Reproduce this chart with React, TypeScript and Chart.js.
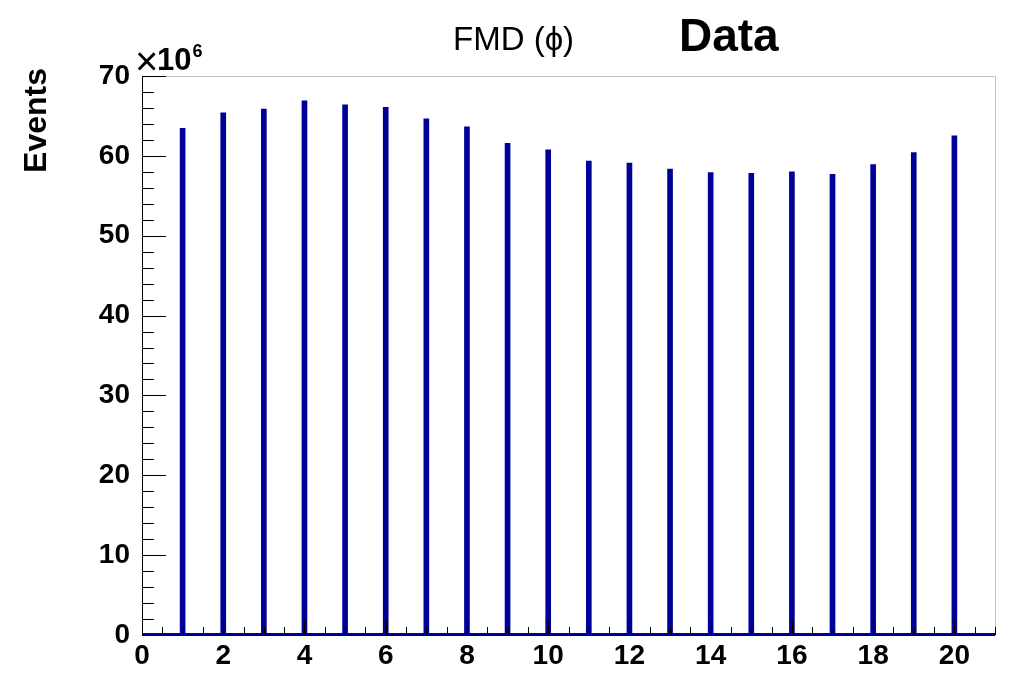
import React, { useEffect, useRef } from "react";
import { Chart, registerables } from "chart.js";

Chart.register(...registerables);

// ---- data (values in units of 10^6 events) ----
const binCenters = [1, 2, 3, 4, 5, 6, 7, 8, 9, 10, 11, 12, 13, 14, 15, 16, 17, 18, 19, 20];
const eventsMillions = [
  63.45, 65.4, 65.87, 66.9, 66.4, 66.08, 64.65, 63.65, 61.57, 60.77,
  59.35, 59.1, 58.35, 57.9, 57.8, 58.0, 57.7, 58.9, 60.4, 62.5,
];
const xRange = [0, 21];
const yRange = [0, 70];
const xMajorStep = 2;
const xMinorStep = 0.5;
const yMajorStep = 10;
const yMinorStep = 2;
const titleText = "FMD (\u03D5)";
const dataLabel = "Data";
const yAxisTitle = "Events";

const FONT = '"Liberation Sans", Arial, Helvetica, sans-serif';
const BLUE = "#000099";

const rootAxesPlugin = {
  id: "rootAxes",
  afterDraw(chart: any) {
    const { ctx, chartArea } = chart;
    const xs = chart.scales.x;
    const ys = chart.scales.y;
    const { left, right, top, bottom } = chartArea;
    ctx.save();
    // frame (top/right light grey)
    ctx.strokeStyle = "#c0c0c0";
    ctx.lineWidth = 1;
    ctx.beginPath();
    ctx.moveTo(left, top + 0.5);
    ctx.lineTo(right + 0.5, top + 0.5);
    ctx.lineTo(right + 0.5, bottom);
    ctx.stroke();
    // axes lines
    ctx.strokeStyle = "#000";
    ctx.beginPath();
    ctx.moveTo(left + 0.5, top);
    ctx.lineTo(left + 0.5, bottom + 0.5);
    ctx.lineTo(right, bottom + 0.5);
    ctx.stroke();
    // y ticks (pointing inwards)
    ctx.beginPath();
    for (let v = yRange[0]; v <= yRange[1] + 1e-9; v += yMinorStep) {
      const py = Math.round(ys.getPixelForValue(v)) + 0.5;
      const isMajor = Math.abs(v / yMajorStep - Math.round(v / yMajorStep)) < 1e-6;
      const len = isMajor ? 24 : 12;
      ctx.moveTo(left, py);
      ctx.lineTo(left + len, py);
    }
    // x ticks
    for (let v = xRange[0]; v <= xRange[1] + 1e-9; v += xMinorStep) {
      const px = Math.round(xs.getPixelForValue(v)) + 0.5;
      const isMajor = Math.abs(v / xMajorStep - Math.round(v / xMajorStep)) < 1e-6;
      const len = isMajor ? 16 : 8;
      ctx.moveTo(px, bottom);
      ctx.lineTo(px, bottom - len);
    }
    ctx.stroke();

    // exponent label x10^6
    ctx.fillStyle = "#000";
    ctx.textBaseline = "alphabetic";
    ctx.textAlign = "left";
    ctx.font = `40px ${FONT}`;
    ctx.fillText("\u00D7", 135, 75);
    ctx.font = `bold 31px ${FONT}`;
    ctx.fillText("10", 157, 70);
    const w10 = ctx.measureText("10").width;
    ctx.font = `bold 18px ${FONT}`;
    ctx.fillText("6", 157 + w10 + 1, 57);

    // titles
    ctx.font = `33px ${FONT}`;
    ctx.fillText(titleText, 453, 50);
    ctx.font = `bold 46px ${FONT}`;
    ctx.fillText(dataLabel, 679, 51);

    // y axis title
    ctx.save();
    ctx.translate(46, 68);
    ctx.rotate(-Math.PI / 2);
    ctx.textAlign = "right";
    ctx.font = `bold 32px ${FONT}`;
    ctx.fillText(yAxisTitle, 0, 0);
    ctx.restore();

    ctx.restore();
  },
};

export default function App() {
  const canvasRef = useRef<HTMLCanvasElement | null>(null);

  useEffect(() => {
    const canvas = canvasRef.current;
    if (!canvas) return;
    const chart = new Chart(canvas, {
      type: "bar",
      data: {
        datasets: [
          {
            type: "bar",
            label: dataLabel,
            data: binCenters.map((x, i) => ({ x, y: eventsMillions[i] })),
            backgroundColor: BLUE,
            borderWidth: 0,
            barThickness: 5,
            order: 2,
          } as any,
          {
            type: "line",
            label: "baseline",
            data: [
              { x: xRange[0], y: 0 },
              { x: xRange[1], y: 0 },
            ],
            borderColor: BLUE,
            borderWidth: 4,
            pointRadius: 0,
            order: 1,
          } as any,
        ],
      },
      options: {
        responsive: false,
        animation: false,
        events: [],
        layout: { padding: { top: 76, right: 22, left: 0, bottom: 0 } },
        plugins: {
          legend: { display: false },
          tooltip: { enabled: false },
          title: { display: false },
        },
        scales: {
          x: {
            type: "linear",
            min: xRange[0],
            max: xRange[1],
            offset: false,
            grid: { display: false, drawTicks: false },
            border: { display: false },
            ticks: {
              stepSize: xMajorStep,
              color: "#000",
              font: { family: FONT, size: 28, weight: "bold" },
              padding: 4,
              maxRotation: 0,
              autoSkip: false,
              includeBounds: false,
            },
            afterFit(scale: any) {
              scale.height = 48;
            },
          },
          y: {
            type: "linear",
            min: yRange[0],
            max: yRange[1],
            grid: { display: false, drawTicks: false },
            border: { display: false },
            ticks: {
              stepSize: yMajorStep,
              color: "#000",
              font: { family: FONT, size: 28, weight: "bold" },
              padding: 12,
            },
            afterFit(scale: any) {
              scale.width = 142;
            },
          },
        },
      } as any,
      plugins: [rootAxesPlugin],
    });
    return () => chart.destroy();
  }, []);

  return (
    <div style={{ position: "fixed", left: 0, top: 0, width: 1017, height: 683, background: "#fff" }}>
      <canvas ref={canvasRef} width={1017} height={683} style={{ width: 1017, height: 683, display: "block" }} />
    </div>
  );
}
